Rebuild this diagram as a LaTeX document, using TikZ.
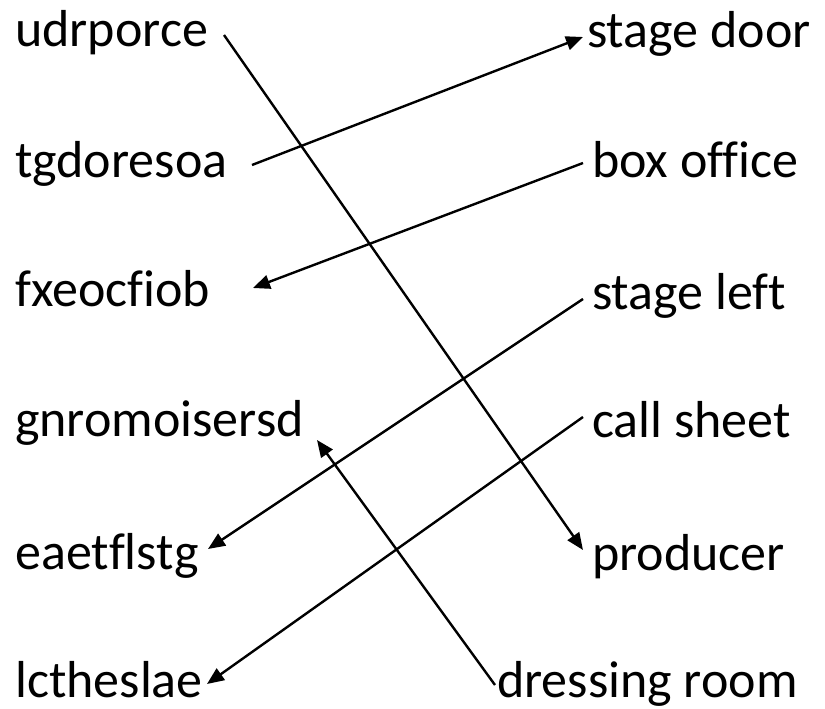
\documentclass[tikz,border=0pt]{standalone}
\usepackage{fontspec}
\setmainfont[Ligatures=NoCommon]{Carlito}
\usetikzlibrary{calc,arrows.meta}
\tikzset{
  word/.style={inner sep=0pt, anchor=base west, font=\fontsize{52}{60}\selectfont},
  link/.style={line width=2.4pt, -{Triangle[length=17pt,width=14pt]}}
}
\begin{document}
\begin{tikzpicture}[x=1pt,y=-1pt]
\useasboundingbox (0,0) rectangle (825,709);
% left column
\node[word] (udrporce) at (15,47) {udrporce};
\node[word] (tgdoresoa) at (15,177) {tgdoresoa};
\node[word] (fxeocfiob) at (15,306) {fxeocfiob};
\node[word] (gnromoisersd) at (15,436) {gnromoisersd};
\node[word] (eaetflstg) at (15,569) {eaetflstg};
\node[word] (lctheslae) at (15,697) {lctheslae};
% right column
\node[word] (stagedoor) at (587,48) {stage door};
\node[word] (boxoffice) at (592,177) {box office};
\node[word] (stageleft) at (592,309) {stage left};
\node[word] (callsheet) at (592,437) {call sheet};
\node[word] (producer) at (592,570) {producer};
\node[word] (dressingroom) at (497,697) {dressing room};
% connectors
\draw[link] ($(udrporce.base west)+(209,-12)$) -- ($(producer.base west)+(-9,-20)$);
\draw[link] ($(tgdoresoa.base west)+(237,-12)$) -- ($(stagedoor.base west)+(-4,-11)$);
\draw[link] ($(boxoffice.base west)+(-9,-14)$) -- ($(fxeocfiob.base west)+(238,-18)$);
\draw[link] ($(stageleft.base west)+(-9,-10)$) -- ($(eaetflstg.base west)+(193,-20)$);
\draw[link] ($(callsheet.base west)+(-9,-20)$) -- ($(lctheslae.base west)+(192,-13)$);
\draw[link] ($(dressingroom.base west)+(-2,-12)$) -- ($(gnromoisersd.base west)+(302,4)$);
\end{tikzpicture}
\end{document}
